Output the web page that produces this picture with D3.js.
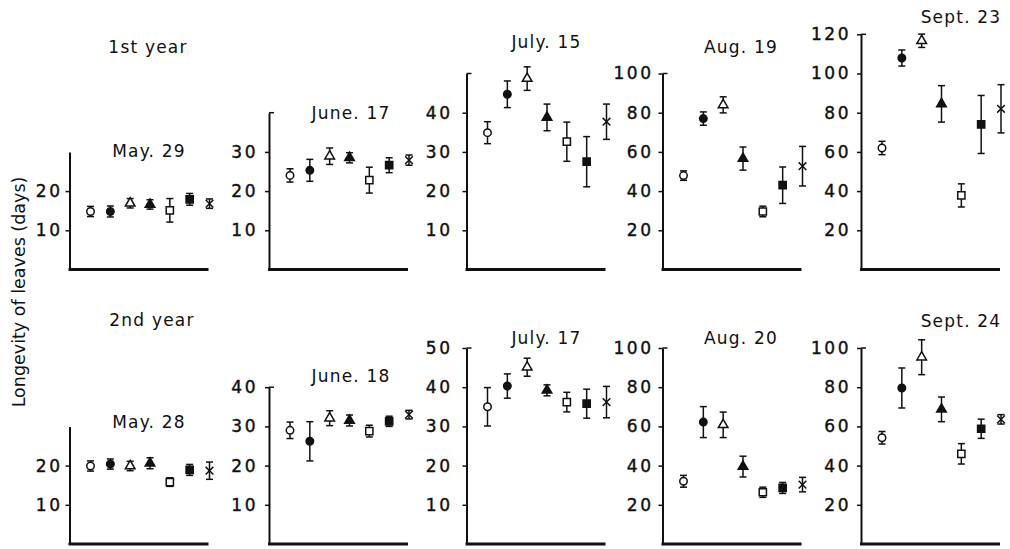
<!DOCTYPE html>
<html>
<head>
<meta charset="utf-8">
<script src="https://cdn.jsdelivr.net/npm/d3@7"></script>
<style>
body { margin: 0; background: #fff; }
svg { display: block; }
text { font-family: "DejaVu Sans", sans-serif; fill: #111; }
</style>
</head>
<body>
<div id="chart"></div>
<script>
//treatments, in the order they stand in every panel
var treatments = ["openCircle", "filledCircle", "openTriangle", "filledTriangle", "openSquare", "filledSquare", "cross"];

//panel titles
var dates1 = ["May. 29", "June. 17", "July. 15", "Aug. 19", "Sept. 23"];
var dates2 = ["May. 28", "June. 18", "July. 17", "Aug. 20", "Sept. 24"];
var years = ["1st year", "2nd year"];

//tick labels and axis tops
var ticks1 = [[10, 20], [10, 20, 30], [10, 20, 30, 40], [20, 40, 60, 80, 100], [20, 40, 60, 80, 100, 120]];
var ticks2 = [[10, 20], [10, 20, 30, 40], [10, 20, 30, 40, 50], [20, 40, 60, 80, 100], [20, 40, 60, 80, 100]];
var yMax1 = [30, 40, 50, 100, 120];
var yMax2 = [30, 40, 50, 100, 100];

//1st year: mean longevity (days) and error
var may29 = [14.8, 14.8, 16.9, 16.6, 15.1, 17.9, 16.8];
var may29Err = [1.3, 1.4, 1.2, 1.2, 3.0, 1.5, 1.2];
var june17 = [24.0, 25.3, 28.9, 28.5, 22.8, 26.6, 27.9];
var june17Err = [1.7, 2.8, 2.1, 1.3, 3.3, 1.9, 1.3];
var july15 = [34.9, 44.7, 48.7, 38.8, 32.6, 27.5, 37.7];
var july15Err = [2.8, 3.4, 3.0, 3.4, 5.0, 6.4, 4.5];
var aug19 = [47.9, 77.0, 84.0, 56.6, 29.6, 43.0, 52.7];
var aug19Err = [2.4, 3.4, 4.1, 5.9, 2.7, 9.3, 10.1];
var sept23 = [62.0, 107.9, 116.7, 84.5, 37.8, 74.0, 82.0];
var sept23Err = [3.4, 4.1, 3.4, 9.3, 5.9, 14.8, 12.3];

//2nd year
var may28 = [19.9, 20.4, 19.9, 20.6, 15.8, 18.9, 18.7];
var may28Err = [1.3, 1.3, 1.2, 1.4, 1.1, 1.4, 2.2];
var june18 = [29.0, 26.2, 32.1, 31.5, 28.8, 31.3, 33.0];
var june18Err = [2.1, 5.0, 1.9, 1.4, 1.5, 1.3, 1.1];
var july17 = [35.0, 40.3, 45.1, 39.2, 36.2, 35.8, 36.2];
var july17Err = [4.9, 3.1, 2.3, 1.4, 2.5, 3.7, 4.0];
var aug20 = [32.0, 62.2, 60.8, 39.5, 26.4, 28.6, 30.3];
var aug20Err = [3.0, 7.9, 6.5, 5.3, 2.6, 2.8, 3.7];
var sept24 = [54.2, 79.6, 95.3, 68.7, 46.0, 58.8, 63.6];
var sept24Err = [3.2, 10.2, 8.9, 6.3, 5.2, 4.9, 2.4];

var means = [[may29, june17, july15, aug19, sept23], [may28, june18, july17, aug20, sept24]];
var errs = [[may29Err, june17Err, july15Err, aug19Err, sept23Err], [may28Err, june18Err, july17Err, aug20Err, sept24Err]];

//layout
var width = 1010, height = 549;
var colLeft = [69.5, 269, 466.5, 662.5, 861];
var rowBase = [269.5, 544];
var pxPerUnit = [3.92, 3.92, 3.92, 1.96, 1.96];
var tickPad = [3, 7, 10, 5, 6];
var titleX = [149, 351, 546.5, 741, 961];
var titleY = [[156.5, 119, 48, 52.5, 23], [428, 381.5, 344, 344, 326.5]];

var svg = d3.select("#chart").append("svg")
    .attr("width", width)
    .attr("height", height);

//draw one marker
function drawMarker(g, kind, x, y){
    var open = kind.indexOf("open") === 0;
    var type, size;
    if (kind.indexOf("Circle") > 0) { type = d3.symbolCircle; size = 44; }
    else if (kind.indexOf("Triangle") > 0) { type = d3.symbolTriangle; size = 40; }
    else if (kind.indexOf("Square") > 0) { type = d3.symbolSquare; size = 52; }
    else { type = d3.symbolTimes; size = 40; }

    g.append("path")
        .attr("transform", "translate(" + x + "," + y + ")")
        .attr("d", d3.symbol().type(type).size(size)())
        .attr("fill", kind === "cross" ? "none" : (open ? "#fff" : "#111"))
        .attr("stroke", "#111")
        .attr("stroke-width", 1.5);
}

//draw one panel
function drawPanel(row, col){
    var left = colLeft[col];
    var base = rowBase[row];
    var max = row === 0 ? yMax1[col] : yMax2[col];
    var ticks = row === 0 ? ticks1[col] : ticks2[col];
    var vals = means[row][col];
    var err = errs[row][col];

    var y = d3.scaleLinear()
        .domain([0, max])
        .range([base, base - max * pxPerUnit[col]]);

    var x = d3.scalePoint()
        .domain(treatments)
        .range([left + 21, left + 140]);

    var g = svg.append("g");

    //y axis
    var yAxis = g.append("g")
        .attr("transform", "translate(" + left + ",0)")
        .call(d3.axisLeft(y).tickValues(ticks).tickSize(4).tickSizeOuter(0).tickPadding(tickPad[col]));
    yAxis.select(".domain").attr("stroke", "#111").attr("stroke-width", 2);
    yAxis.selectAll(".tick line").attr("stroke", "#111").attr("stroke-width", 1.5);
    yAxis.selectAll(".tick text")
        .attr("font-family", "DejaVu Sans, sans-serif")
        .attr("font-size", 17)
        .attr("letter-spacing", 2.5)
        .attr("fill", "#111")
        .attr("stroke", "#111")
        .attr("stroke-width", 0.4);

    //small serif at the top of the axis
    if (col > 0) {
        g.append("line")
            .attr("x1", left).attr("x2", left + 5)
            .attr("y1", y(max)).attr("y2", y(max))
            .attr("stroke", "#111").attr("stroke-width", 1.5);
    }

    //x axis line
    g.append("line")
        .attr("x1", left - 1).attr("x2", x.range()[1] - 1)
        .attr("y1", base).attr("y2", base)
        .attr("stroke", "#111").attr("stroke-width", 3);

    //error bars
    treatments.forEach(function(t, i){
        var cx = x(t);
        var lo = y(vals[i] - err[i]), hi = y(vals[i] + err[i]);
        g.append("line")
            .attr("x1", cx).attr("x2", cx).attr("y1", lo).attr("y2", hi)
            .attr("stroke", "#111").attr("stroke-width", 1.5);
        [lo, hi].forEach(function(cy){
            g.append("line")
                .attr("x1", cx - 3.5).attr("x2", cx + 3.5).attr("y1", cy).attr("y2", cy)
                .attr("stroke", "#111").attr("stroke-width", 1.5);
        });
    });

    //markers
    treatments.forEach(function(t, i){
        drawMarker(g, t, x(t), y(vals[i]));
    });

    //title
    g.append("text")
        .attr("x", titleX[col])
        .attr("y", titleY[row][col])
        .attr("text-anchor", "middle")
        .attr("font-size", 17)
        .attr("letter-spacing", 1.2)
        .text(row === 0 ? dates1[col] : dates2[col]);
}

[0, 1].forEach(function(row){
    [0, 1, 2, 3, 4].forEach(function(col){ drawPanel(row, col); });
});

//year labels
svg.append("text")
    .attr("x", 148).attr("y", 52.5)
    .attr("text-anchor", "middle")
    .attr("font-size", 17).attr("letter-spacing", 1.2)
    .text(years[0]);
svg.append("text")
    .attr("x", 152).attr("y", 326)
    .attr("text-anchor", "middle")
    .attr("font-size", 17).attr("letter-spacing", 1.2)
    .text(years[1]);

//shared y axis title
svg.append("text")
    .attr("transform", "translate(25,292) rotate(-90)")
    .attr("text-anchor", "middle")
    .attr("font-size", 17.5)
    .text("Longevity of leaves (days)");
</script>
</body>
</html>
